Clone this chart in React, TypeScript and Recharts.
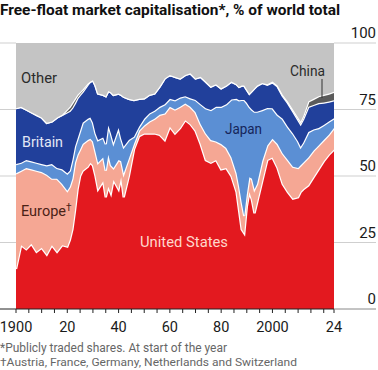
import { Area, AreaChart, XAxis, YAxis } from 'recharts';

// shares of world free-float market cap, %
const years = [
  1900, 1902, 1904, 1906, 1908, 1910, 1912, 1914, 1916, 1918,
  1920, 1921, 1922, 1923, 1924, 1925, 1926,
  1928, 1929, 1930, 1931, 1932,
  1934, 1935, 1936, 1937, 1938,
  1940, 1941, 1942,
  1944, 1946, 1948, 1950, 1952, 1954, 1956, 1958, 1960, 1962, 1964, 1966, 1968, 1970, 1972, 1974, 1976, 1978, 1980, 1982, 1984, 1986,
  1987, 1988, 1989, 1990, 1991, 1992, 1993, 1994,
  1996, 1998, 2000, 2002, 2004, 2006, 2008, 2010,
  2011, 2012,
  2014, 2016, 2018, 2020, 2022, 2024,
];

const usShare = [
  15, 24, 22.5, 24.5, 21.5, 23, 20.5, 24, 21.5, 24,
  23.5, 26, 30, 37, 45, 50, 52,
  53.5, 55, 54, 50, 45,
  48, 42, 46, 43.5, 48.5,
  45, 49.5, 42,
  50, 60, 65, 66, 66, 66, 65.5, 63.5, 68.5, 66, 68, 71, 69.5, 67, 62, 56, 55, 56, 52.5, 53, 50, 44,
  37, 30, 28.5, 38.5, 44, 41, 36, 40,
  48, 56, 57, 53, 47, 44, 41.5, 42,
  44, 45,
  46.5, 49.5, 52.5, 55.5, 58, 60,
];

const europeShare = [
  36, 28, 30.5, 28, 30.5, 28.5, 30, 25, 27.5, 23,
  21, 20, 19, 18, 13, 10, 10,
  10, 9, 9, 9, 10,
  9, 10, 12, 10.5, 4.5,
  11, 6, 9,
  6.5, 2, 2, 3, 4.5, 5.5, 7.5, 10, 7.5, 9, 8, 6.3, 6.5, 7, 7.5, 10, 8.5, 7, 9.5, 7.5, 7, 7,
  9, 10, 6.5, 4.5, 5.5, 8, 9, 7,
  7.5, 5.5, 7, 9, 11.5, 12, 12, 11,
  10, 10,
  10.5, 10, 9, 8, 7.5, 8,
];

const japanShare = [
  3.5, 3, 3, 3, 3, 3, 3.5, 5.5, 4, 5.5,
  6.5, 6, 7, 6, 6, 7, 8,
  8, 8, 7, 7, 8.5,
  7.5, 10, 11, 12, 9.5,
  12, 8.5, 10,
  7, 2.8, 1.5, 2.5, 3, 3, 3, 3.5, 3, 3.5, 3.5, 2.7, 3.2, 4.6, 7.5, 9.5, 11.3, 13, 14, 16.5, 21.8, 28,
  32.5, 38.6, 43.6, 34.5, 26.5, 26, 29.2, 27.2,
  19.3, 14.1, 11.5, 11, 13, 12.5, 12.5, 10,
  7, 7.5,
  9.5, 8, 6.5, 5.7, 5, 3.7,
];

const britainShare = [
  21, 21, 19, 18.5, 18, 17.5, 16, 16, 19, 20.5,
  23, 22.5, 19.7, 16.4, 15.3, 13.5, 11.7,
  12.9, 13.5, 16, 18, 17.5,
  16, 18, 13, 15.5, 18,
  13, 16.5, 18.8,
  15.5, 13.8, 10.5, 7.7, 7, 6.5, 7.6, 9.7, 9, 8.8, 7.2, 8, 9.4, 8.1, 10.3, 10, 8.8, 8.5, 7, 7, 6.7, 5.5,
  5, 5.4, 5.4, 5, 5, 7, 8.8, 9.8,
  10.2, 8.7, 9.7, 10.7, 8.6, 9, 8.4, 8.2,
  8.6, 8.9,
  9.5, 9.2, 9.4, 8.4, 7.5, 6.8,
];

const chinaShare = [
  0, 0, 0, 0, 0, 0, 0, 0, 0, 0,
  1, 1.5, 1.8, 1.6, 1.2, 1, 0.8,
  0.4, 0, 0, 0, 0,
  0, 0, 0, 0, 0,
  0, 0, 0,
  0, 0, 0, 0, 0, 0, 0, 0, 0, 0, 0, 0, 0, 0, 0, 0, 0, 0, 0, 0, 0, 0,
  0, 0, 0, 0, 0, 0, 0, 0,
  0, 0.2, 0.3, 0.3, 0.4, 0.5, 0.6, 0.8,
  0.9, 1.1,
  2, 2.3, 2.6, 2.9, 3, 3.2,
];

const otherShare = [
  24.5, 24, 25, 26, 27, 28, 30, 29.5, 28, 27,
  25, 24, 22.5, 21, 19.5, 18.5, 17.5,
  15.2, 14.5, 14, 16, 19,
  19.5, 20, 18, 18.5, 19.5,
  19, 19.5, 20.2,
  21, 21.4, 21, 20.8, 19.5, 19, 16.4, 13.3, 12, 12.7, 13.3, 12, 11.4, 13.3, 12.7, 14.5, 16.4, 15.5, 17, 16, 14.5, 15.5,
  16.5, 16, 16, 17.5, 19, 18, 17, 16,
  15, 15.5, 14.5, 16, 19.5, 22, 25, 28,
  29.5, 27.5,
  22, 21, 20, 19.5, 19, 18.3,
];

const xTicks = [1900, 1905, 1910, 1915, 1920, 1925, 1930, 1935, 1940, 1945, 1950, 1955, 1960, 1965, 1970, 1975, 1980, 1985, 1990, 1995, 2000, 2005, 2010, 2015, 2020, 2024];
const xLabels: Record<number, string> = { 1900: '1900', 1920: '20', 1940: '40', 1960: '60', 1980: '80', 2000: '2000', 2024: '24' };
const yTicks = [0, 25, 50, 75, 100];

const data = years.map((year, i) => ({
  year,
  us: usShare[i],
  europe: europeShare[i],
  japan: japanShare[i],
  britain: britainShare[i],
  china: chinaShare[i],
  other: otherShare[i],
}));

const W = 378;
const H = 370;
const PLOT_LEFT = 16;
const PLOT_RIGHT = 334;
const FONT = 'Roboto, "Liberation Sans", sans-serif';

const colors = {
  us: '#e3191f',
  europe: '#f5a794',
  japan: '#5b8fd4',
  britain: '#21409b',
  china: '#5b5b5b',
  other: '#c4c4c4',
  grid: '#cfcfcf',
  text: '#1a1a1a',
};

function YTick(props: any) {
  const { y, payload } = props;
  const isZero = payload.value === 0;
  return (
    <g>
      <line x1={0} x2={PLOT_LEFT} y1={y} y2={y} stroke={isZero ? '#222' : colors.grid} strokeWidth={1} />
      <line x1={PLOT_RIGHT} x2={W - 2} y1={y} y2={y} stroke={isZero ? '#888' : colors.grid} strokeWidth={1} />
      <text x={W - 2} y={y - 5} textAnchor="end" fontSize={15} fontFamily={FONT} fill={colors.text}>
        {payload.value}
      </text>
    </g>
  );
}

const series = [
  { key: 'us', stroke: '#fff' },
  { key: 'europe', stroke: '#fff' },
  { key: 'japan', stroke: '#fff' },
  { key: 'britain', stroke: '#fff' },
  { key: 'china', stroke: '#fff' },
  { key: 'other', stroke: 'none' },
] as const;

export default function App() {
  return (
    <div style={{ position: 'absolute', left: 0, top: 0, width: W, height: H, background: '#fff', overflow: 'hidden' }}>
      <AreaChart width={W} height={H} data={data} margin={{ top: 43, right: 0, left: PLOT_LEFT, bottom: 31 }}>
        <XAxis
          dataKey="year"
          type="number"
          domain={[1900, 2024]}
          allowDataOverflow
          ticks={xTicks}
          interval={0}
          height={30}
          tickSize={4}
          tickMargin={9}
          tickFormatter={(v: number) => xLabels[v] ?? ''}
          tick={{ fill: colors.text, fontSize: 14.5, fontFamily: FONT }}
          tickLine={{ stroke: '#222' }}
          axisLine={{ stroke: '#222' }}
        />
        <YAxis
          orientation="right"
          domain={[0, 100]}
          allowDataOverflow
          ticks={yTicks}
          interval={0}
          width={44}
          axisLine={false}
          tickLine={false}
          tick={(p: any) => <YTick {...p} />}
        />
        {series.map((s) => (
          <Area
            key={s.key}
            dataKey={s.key}
            stackId="share"
            type="linear"
            fill={colors[s.key]}
            fillOpacity={1}
            stroke={s.stroke}
            strokeWidth={2.4}
            dot={false}
            activeDot={false}
            isAnimationActive={false}
          />
        ))}
      </AreaChart>

      <svg width={W} height={H} style={{ position: 'absolute', left: 0, top: 0, pointerEvents: 'none' }}>
        <text x={0} y={15} fontSize={15.5} fontWeight={700} fontFamily={FONT} fill="#111" textLength={340} lengthAdjust="spacingAndGlyphs">
          Free-float market capitalisation*, % of world total
        </text>

        <text x={21} y={83} fontSize={14} fontFamily={FONT} fill="#2b2b2b" textLength={36} lengthAdjust="spacingAndGlyphs">Other</text>
        <text x={22} y={147} fontSize={14} fontFamily={FONT} fill="#e3e8f6" textLength={41} lengthAdjust="spacingAndGlyphs">Britain</text>
        <text x={21} y={216} fontSize={14} fontFamily={FONT} fill="#4a2216">
          <tspan textLength={45} lengthAdjust="spacingAndGlyphs">Europe</tspan>
          <tspan fontSize={10} dy={-5}>†</tspan>
        </text>
        <text x={140} y={247} fontSize={14} fontFamily={FONT} fill="#ffd7cc" textLength={88} lengthAdjust="spacingAndGlyphs">United States</text>
        <text x={225} y={134} fontSize={14} fontFamily={FONT} fill="#16255a" textLength={37} lengthAdjust="spacingAndGlyphs">Japan</text>
        <text x={290} y={76} fontSize={14} fontFamily={FONT} fill="#2b2b2b" textLength={35} lengthAdjust="spacingAndGlyphs">China</text>
        <line x1={322} x2={322} y1={79} y2={98} stroke="#333" strokeWidth={1} />

        <text x={0} y={352} fontSize={12} fontFamily={FONT} fill="#666" textLength={227} lengthAdjust="spacingAndGlyphs">
          *Publicly traded shares. At start of the year
        </text>
        <text x={0} y={366} fontSize={11.5} fontFamily={FONT} fill="#666" textLength={297} lengthAdjust="spacingAndGlyphs">
          †Austria, France, Germany, Netherlands and Switzerland
        </text>
      </svg>
    </div>
  );
}
